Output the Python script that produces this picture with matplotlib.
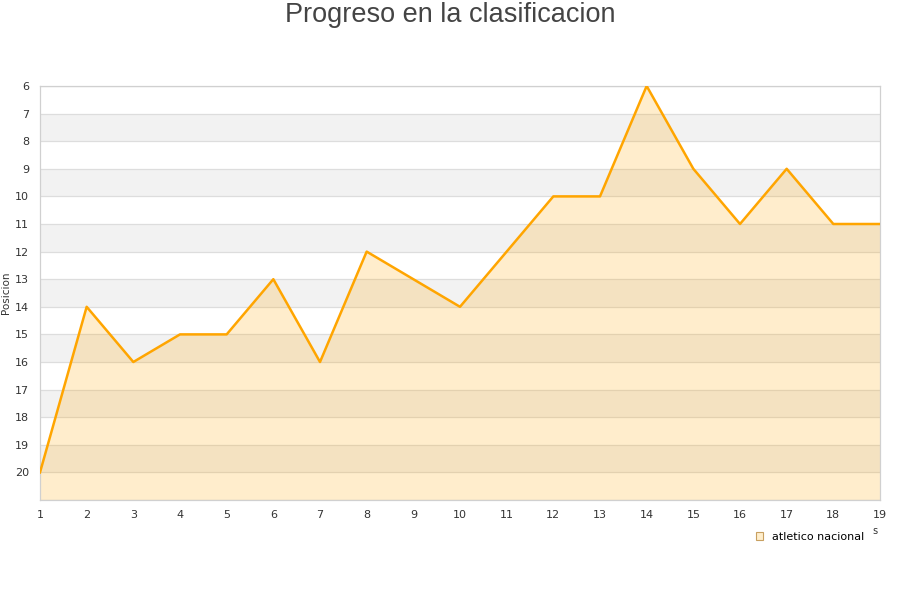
import matplotlib
matplotlib.use("Agg")
import matplotlib.pyplot as plt
from matplotlib.patches import Patch

# --> Data
jornadas = list(range(1, 20))
posiciones = [20, 14, 16, 15, 15, 13, 16, 12, 13, 14, 12, 10, 10, 6, 9, 11, 9, 11, 11]
equipo = "atletico nacional"
titulo = "Progreso en la clasificacion"

line_color = "#FFA500"

fig = plt.figure(figsize=(9, 6), dpi=100)
ax = fig.add_axes([40 / 900, 100 / 600, 840 / 900, 414 / 600])

# --> Alternating bands
for y in range(7, 21, 2):
    ax.axhspan(y, y + 1, color="#F2F2F2", zorder=0, lw=0)

for y in range(6, 22):
    ax.axhline(y, color="#DDDDDD", lw=0.9, zorder=1)

# --> Area + line
ax.fill_between(jornadas, posiciones, 21, color=line_color, alpha=0.2, lw=0, zorder=2)
ax.plot(jornadas, posiciones, color=line_color, lw=1.8, zorder=3)

ax.set_xlim(1, 19)
ax.set_ylim(21, 6)
ax.set_xticks(jornadas)
ax.set_yticks(range(6, 21))
ax.tick_params(length=0, labelsize=8, colors="#333333", pad=7)
ax.tick_params(axis="y", pad=8)

for s in ax.spines.values():
    s.set_color("#D0D0D0")
    s.set_linewidth(0.9)

ax.set_ylabel("Posicion", fontsize=7.5, color="#333333")
ax.yaxis.set_label_coords(-0.0345, 0.5)

fig.text(0.5, 1 - 15 / 600, titulo, ha="center", va="center", fontsize=19.5,
         family="Liberation Sans", color="#444444")

handle = Patch(facecolor="#FFEECC", edgecolor="#C8A060", lw=0.8)
fig.legend([handle], [equipo], loc="center", bbox_to_anchor=(810 / 900, 1 - 537 / 600),
           frameon=False, fontsize=8, handlelength=0.7, handleheight=0.7,
           handletextpad=0.8)
fig.text(875 / 900, 1 - 531 / 600, "s", fontsize=7, ha="center", va="center", color="#333333")

fig.savefig("out.png", dpi=100)
